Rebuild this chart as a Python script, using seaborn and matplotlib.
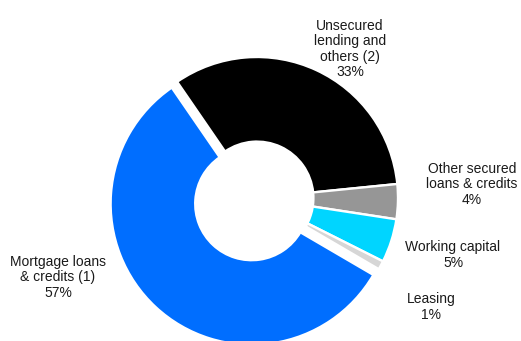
import matplotlib
matplotlib.use("Agg")
import matplotlib.pyplot as plt
import seaborn as sns

sns.set_theme(style="white")
plt.rcParams['font.family'] = ['Liberation Sans', 'DejaVu Sans']

categories = ["Unsecured\nlending and\nothers (2)", "Other secured\nloans & credits",
              "Working capital", "Leasing", "Mortgage loans\n& credits (1)"]
values = [33, 4, 5, 1, 57]
colors = ["#000000", "#969696", "#00D5FF", "#D6D6D6", "#006EFF"]
explode = [0, 0, 0, 0, 0.056]

W, H = 521, 341
fig = plt.figure(figsize=(W / 100, H / 100), dpi=100)
ax = fig.add_axes([0, 0, 1, 1])

ax.pie(values, colors=colors, explode=explode, startangle=124.5, counterclock=False,
       radius=1.0, wedgeprops=dict(width=0.6, edgecolor="white", linewidth=1.7))

# pixel scale: radius 1 -> 141 px, center at (257, 198) px
R = 141.0
cx, cy = 257.0, 198.0
ax.set_xlim(-cx / R, (W - cx) / R)
ax.set_ylim(-(H - cy) / R, cy / R)
ax.set_aspect('auto')
ax.axis('off')

# label blocks: (x center px, y center px)
label_pos = [(350, 49), (472, 184.5), (453, 255), (431, 307), (58, 277.5)]
for cat, v, (px, py) in zip(categories, values, label_pos):
    fig.text(px / W, 1 - py / H, f"{cat}\n{v}%", ha="center", va="center",
             fontsize=10, color="#1a1a1a", linespacing=1.12)

fig.savefig("out.png", dpi=100, facecolor="white")
